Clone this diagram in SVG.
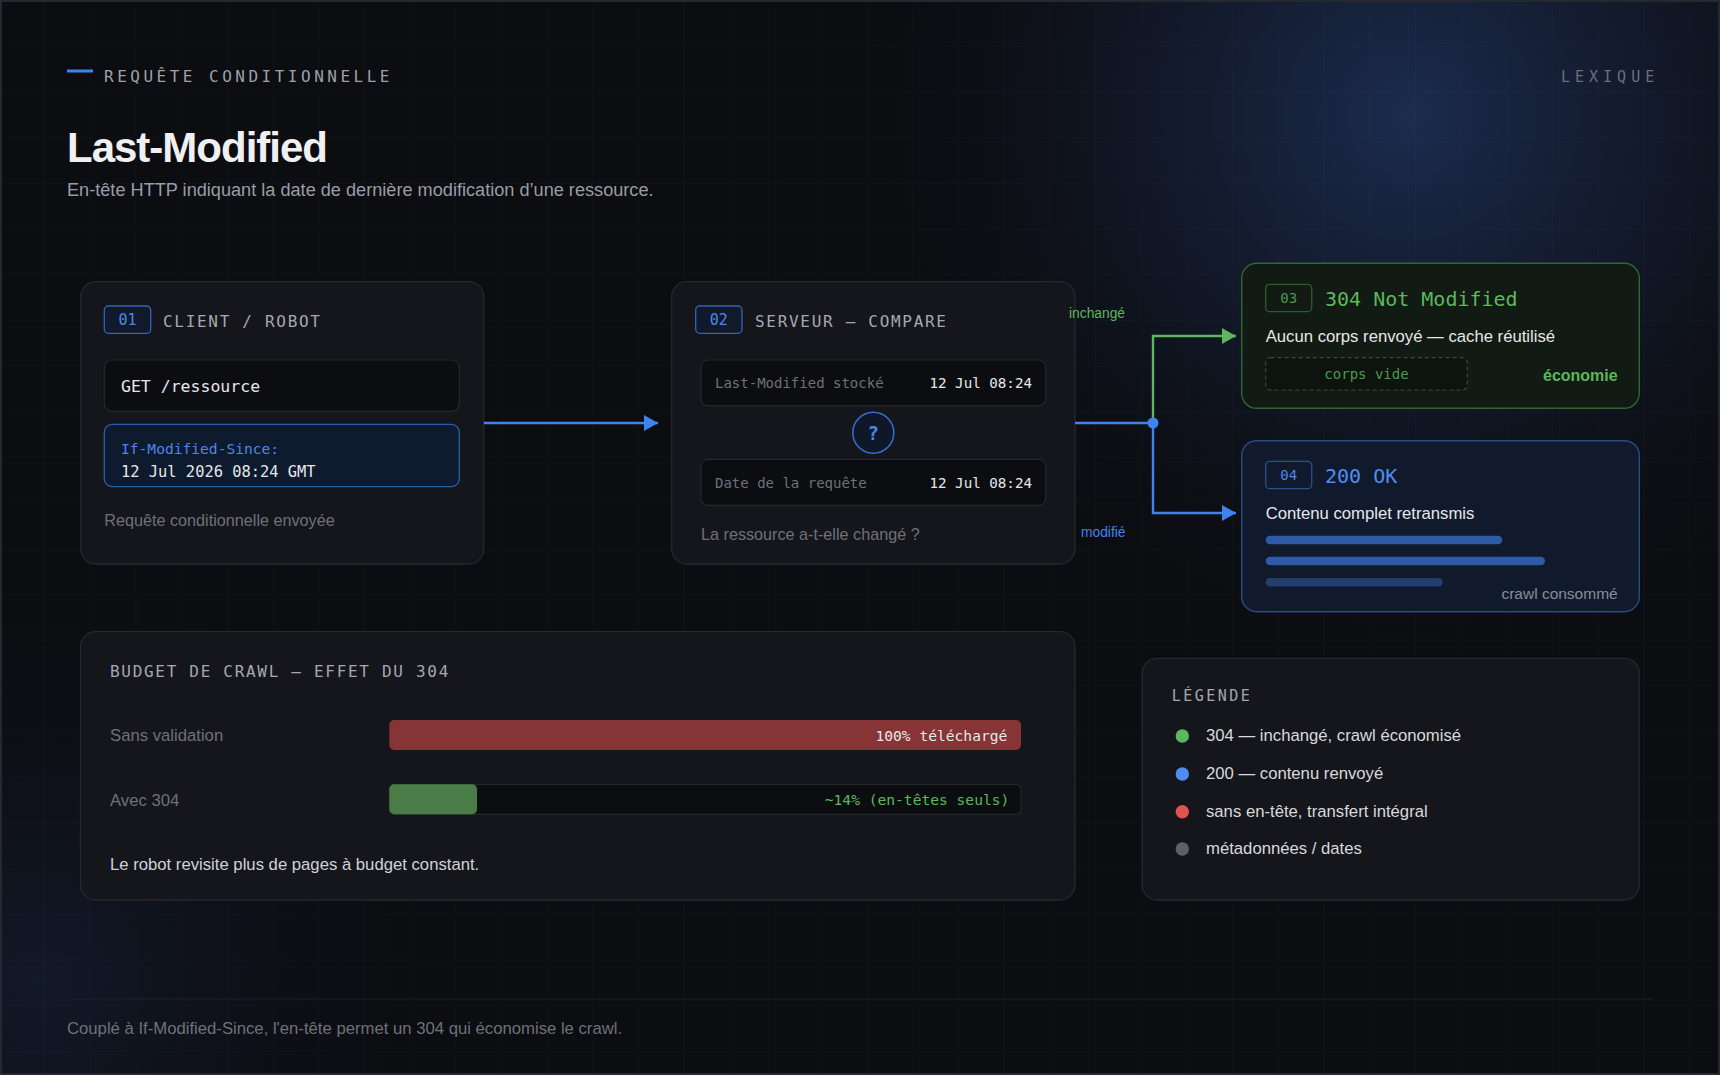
<svg xmlns="http://www.w3.org/2000/svg" width="1720" height="1075" viewBox="0 0 1720 1075">
<style>
.sans{font-family:"Liberation Sans",Arial,sans-serif}
.mono{font-family:"DejaVu Sans Mono","Liberation Mono",monospace}
.card{fill:#15161b;stroke:#262830;stroke-width:1.3}
.cap{font-family:"DejaVu Sans Mono","Liberation Mono",monospace;font-size:16px;letter-spacing:1.7px;fill:#a5a8b0}
.gray{fill:#6e7179}
.white{fill:#e6e7ea}
.body{font-size:16.7px}
.badgeB{fill:#101a2b;stroke:#3264b8;stroke-width:1.3}
.badgeTxtB{fill:#4f86e6;font-size:15px}
.row{fill:#0c0d10;stroke:#25272e;stroke-width:1.2}
.conn{fill:none;stroke-width:2.4}
</style>
<defs>
<pattern id="grid" x="44" y="0" width="45.7" height="45.7" patternUnits="userSpaceOnUse">
<path d="M0 0 H45.7 M0 0 V45.7" fill="none" stroke="#6e88b8" stroke-opacity="0.07" stroke-width="1"/>
</pattern>
<radialGradient id="glowTR" gradientUnits="userSpaceOnUse" cx="1410" cy="115" r="560">
<stop offset="0" stop-color="#1d2e52" stop-opacity="0.95"/>
<stop offset="0.45" stop-color="#16223d" stop-opacity="0.55"/>
<stop offset="1" stop-color="#0c0d11" stop-opacity="0"/>
</radialGradient>
<radialGradient id="glowBL" gradientUnits="userSpaceOnUse" cx="40" cy="980" r="420">
<stop offset="0" stop-color="#16213a" stop-opacity="0.6"/>
<stop offset="1" stop-color="#0c0d11" stop-opacity="0"/>
</radialGradient>
<marker id="arrB" markerUnits="userSpaceOnUse" markerWidth="14" markerHeight="16" refX="14" refY="8" orient="auto">
<path d="M0 0 L14 8 L0 16 Z" fill="#3f83ef"/>
</marker>
<marker id="arrG" markerUnits="userSpaceOnUse" markerWidth="14" markerHeight="16" refX="14" refY="8" orient="auto">
<path d="M0 0 L14 8 L0 16 Z" fill="#5bb85e"/>
</marker>
</defs>

<!-- background -->
<rect x="0" y="0" width="1720" height="1075" fill="#0c0d11"/>
<rect x="0" y="0" width="1720" height="1075" fill="url(#glowTR)"/>
<rect x="0" y="0" width="1720" height="1075" fill="url(#glowBL)"/>
<rect x="0" y="0" width="1720" height="1075" fill="url(#grid)"/>
<rect x="1" y="1" width="1718" height="1073" fill="none" stroke="#262830" stroke-width="2"/>

<!-- header -->
<g id="header">
<line x1="67" y1="71" x2="93" y2="71" stroke="#3f83ef" stroke-width="3"/>
<text x="104" y="82" class="mono" font-size="16" letter-spacing="3.5" fill="#9ea1aa">REQUÊTE CONDITIONNELLE</text>
<text x="1561" y="82" class="mono" font-size="15" letter-spacing="5" fill="#6b6f7a">LEXIQUE</text>
<text x="67" y="162" class="sans" font-size="42" font-weight="bold" letter-spacing="-1" fill="#f0f0f2">Last-Modified</text>
<text x="67" y="196" class="sans" font-size="18.15" fill="#9a9ca5">En-tête HTTP indiquant la date de dernière modification d’une ressource.</text>
</g>

<!-- 01 client -->
<g id="node-client">
<rect class="card" x="80.7" y="281.7" width="403" height="282.3" rx="15"/>
<rect class="badgeB" x="104.3" y="306" width="46.4" height="27.3" rx="4"/>
<text x="127.5" y="325" class="mono badgeTxtB" text-anchor="middle">01</text>
<text x="163" y="326.5" class="cap">CLIENT / ROBOT</text>
<rect class="row" x="104.3" y="360" width="355" height="51.3" rx="8"/>
<text x="121" y="392" class="mono white" font-size="16.5">GET /ressource</text>
<rect x="104.3" y="424.3" width="355" height="62.4" rx="8" fill="#0e1a2d" stroke="#2f5ea8" stroke-width="1.3"/>
<text x="121" y="454" class="mono" font-size="14.6" fill="#4f86e6">If-Modified-Since:</text>
<text x="121" y="477.3" class="mono white" font-size="15.4">12 Jul 2026 08:24 GMT</text>
<text x="104.3" y="526" class="sans gray" font-size="16.2">Requête conditionnelle envoyée</text>
</g>

<!-- 02 serveur -->
<g id="node-serveur">
<rect class="card" x="671.7" y="281.7" width="403.3" height="282.3" rx="15"/>
<rect class="badgeB" x="695.7" y="306" width="46.3" height="27.3" rx="4"/>
<text x="718.8" y="325" class="mono badgeTxtB" text-anchor="middle">02</text>
<text x="755" y="326.5" class="cap">SERVEUR — COMPARE</text>
<rect class="row" x="701" y="360" width="344.7" height="45.7" rx="7"/>
<text x="715" y="388" class="mono gray" font-size="14">Last-Modified stocké</text>
<text x="1032" y="388" class="mono white" font-size="14.2" text-anchor="end">12 Jul 08:24</text>
<circle cx="873.3" cy="432.7" r="20.5" fill="#0f1828" stroke="#3570d0" stroke-width="1.5"/>
<text x="873.3" y="439.5" class="mono" font-size="19" font-weight="bold" fill="#4f86e6" text-anchor="middle">?</text>
<rect class="row" x="701" y="459.3" width="344.7" height="46" rx="7"/>
<text x="715" y="487.5" class="mono gray" font-size="14">Date de la requête</text>
<text x="1032" y="487.5" class="mono white" font-size="14.2" text-anchor="end">12 Jul 08:24</text>
<text x="701" y="540" class="sans gray" font-size="16.2">La ressource a-t-elle changé ?</text>
</g>

<!-- 03 304 -->
<g id="node-304">
<rect x="1241.7" y="263.3" width="397.6" height="145" rx="15" fill="#111a13" stroke="#2f6634" stroke-width="1.4"/>
<rect x="1265.7" y="284.3" width="46" height="27.4" rx="4" fill="none" stroke="#2e5a33" stroke-width="1.3"/>
<text x="1288.7" y="303" class="mono" font-size="14" fill="#4c9a50" text-anchor="middle">03</text>
<text x="1325" y="305.5" class="mono" font-size="20" fill="#5bb85e">304 Not Modified</text>
<text x="1265.7" y="341.5" class="sans body white">Aucun corps renvoyé — cache réutilisé</text>
<rect x="1265.7" y="357.7" width="201.6" height="32.3" rx="5" fill="#0d140e" stroke="#2e4f31" stroke-width="1.2" stroke-dasharray="4 3"/>
<text x="1366.5" y="378.5" class="mono" font-size="14" fill="#4c9a50" text-anchor="middle">corps vide</text>
<text x="1617.7" y="381" class="sans" font-size="16" font-weight="bold" fill="#5bb85e" text-anchor="end">économie</text>
</g>

<!-- 04 200 -->
<g id="node-200">
<rect x="1241.7" y="440.7" width="397.6" height="171" rx="15" fill="#111a2c" stroke="#2b4a80" stroke-width="1.4"/>
<rect x="1265.7" y="461.3" width="46" height="27.4" rx="4" fill="none" stroke="#2b4f88" stroke-width="1.3"/>
<text x="1288.7" y="480" class="mono" font-size="14" fill="#4f86e6" text-anchor="middle">04</text>
<text x="1325" y="483" class="mono" font-size="20" fill="#4f8ef0">200 OK</text>
<text x="1265.7" y="518.5" class="sans body white">Contenu complet retransmis</text>
<rect x="1265.7" y="535.7" width="236.6" height="8.5" rx="4.2" fill="#2f5aa8"/>
<rect x="1265.7" y="556.7" width="279.3" height="8.5" rx="4.2" fill="#2f5aa8"/>
<rect x="1265.7" y="578" width="177" height="8.5" rx="4.2" fill="#233e6c"/>
<text x="1617.7" y="599" class="sans" font-size="15.5" text-anchor="end" fill="#8a8d96">crawl consommé</text>
</g>

<!-- budget -->
<g id="node-budget">
<rect class="card" x="80.5" y="631.7" width="994.5" height="268.3" rx="15"/>
<text x="110" y="676.7" class="cap">BUDGET DE CRAWL — EFFET DU 304</text>
<text x="110" y="741" class="sans body gray">Sans validation</text>
<rect x="389.3" y="720" width="631.7" height="30" rx="5" fill="#873437"/>
<text x="1007.3" y="740.5" class="mono white" font-size="14.6" text-anchor="end">100% téléchargé</text>
<text x="110" y="806" class="sans body gray">Avec 304</text>
<rect class="row" x="389.3" y="784.3" width="631.7" height="30" rx="5"/>
<rect x="389.3" y="784.3" width="87.7" height="30" rx="5" fill="#4a7c47"/>
<text x="1009.3" y="805" class="mono" font-size="14.6" fill="#5bb85e" text-anchor="end">~14% (en-têtes seuls)</text>
<text x="110" y="870" class="sans body" fill="#d0d2d8">Le robot revisite plus de pages à budget constant.</text>
</g>

<!-- legend -->
<g id="legend">
<rect class="card" x="1142.3" y="658.3" width="497" height="241.7" rx="15"/>
<text x="1171.7" y="700.7" class="mono" font-size="15" letter-spacing="2.5" fill="#a5a8b0">LÉGENDE</text>
<circle cx="1182.3" cy="736" r="6.7" fill="#5bb85e"/>
<text x="1206" y="741" class="sans body" fill="#d8d9dd">304 — inchangé, crawl économisé</text>
<circle cx="1182.3" cy="774" r="6.7" fill="#4f8ef0"/>
<text x="1206" y="779" class="sans body" fill="#d8d9dd">200 — contenu renvoyé</text>
<circle cx="1182.3" cy="811.7" r="6.7" fill="#e05252"/>
<text x="1206" y="816.7" class="sans body" fill="#d8d9dd">sans en-tête, transfert intégral</text>
<circle cx="1182.3" cy="849" r="6.7" fill="#5e6068"/>
<text x="1206" y="854" class="sans body" fill="#d8d9dd">métadonnées / dates</text>
</g>

<!-- connectors -->
<g id="connectors">
<line class="conn" x1="484" y1="423" x2="658" y2="423" stroke="#3f83ef" marker-end="url(#arrB)"/>
<line class="conn" x1="1075" y1="423" x2="1153" y2="423" stroke="#3f83ef"/>
<path class="conn" d="M1153 423 V336 H1236" stroke="#5bb85e" marker-end="url(#arrG)"/>
<path class="conn" d="M1153 423 V513 H1236" stroke="#3f83ef" marker-end="url(#arrB)"/>
<circle cx="1153" cy="423" r="5.5" fill="#3f83ef"/>
<text x="1069" y="318" class="sans" font-size="13.8" fill="#5bb85e">inchangé</text>
<text x="1081" y="537" class="sans" font-size="13.8" fill="#3f83ef">modifié</text>
</g>

<!-- footer -->
<g id="footer">
<line x1="67" y1="999" x2="1653" y2="999" stroke="#1f2129" stroke-width="1.2"/>
<text x="67" y="1034" class="sans body" fill="#6e7179">Couplé à If-Modified-Since, l'en-tête permet un 304 qui économise le crawl.</text>
</g>
</svg>
